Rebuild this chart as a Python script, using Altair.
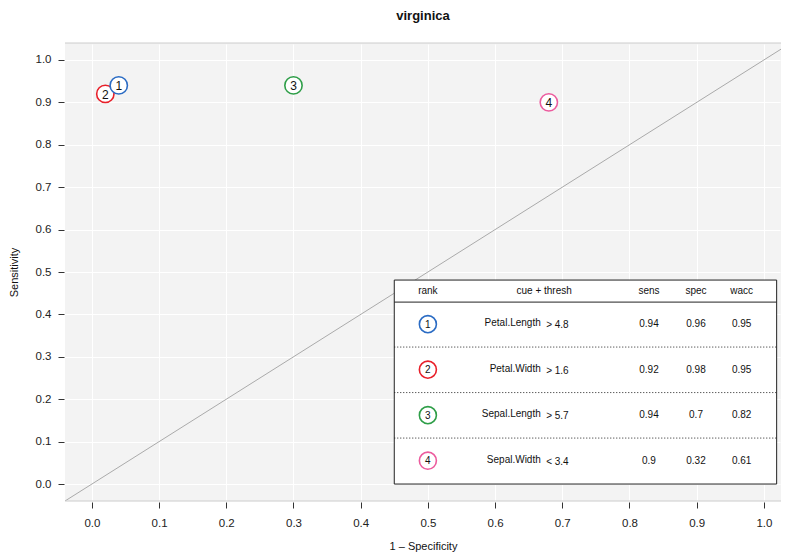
import altair as alt
import pandas as pd

ranks = [1, 2, 3, 4]
cues = ["Petal.Length", "Petal.Width", "Sepal.Length", "Sepal.Width"]
threshes = ["> 4.8", "> 1.6", "> 5.7", "< 3.4"]
sens = [0.94, 0.92, 0.94, 0.90]
spec = [0.96, 0.98, 0.70, 0.32]
wacc = [0.95, 0.95, 0.82, 0.61]
colors = ["#2B6CC4", "#E8202A", "#2E9E48", "#EC5C9E"]
ticks = [0.0, 0.1, 0.2, 0.3, 0.4, 0.5, 0.6, 0.7, 0.8, 0.9, 1.0]

FONT = "Liberation Sans"
W, H = 716, 458
xdom = [-0.04, -0.04 + W / 672]
ydom = [-0.04, 1.04]
xs = alt.Scale(domain=xdom, nice=False, zero=False)
ys = alt.Scale(domain=ydom, nice=False, zero=False)
cscale = alt.Scale(domain=ranks, range=colors)

pts = pd.DataFrame({
    "rank": ranks, "fpr": [round(1 - s, 2) for s in spec], "sens": sens,
})
pts_order = pts.iloc[::-1].reset_index(drop=True)

# table layout (data coords of the plot)
row_y = [0.377 - i * 0.1073 for i in range(4)]
tbl = pd.DataFrame({
    "rank": ranks, "cue": cues, "thresh": threshes,
    "sens_t": [f"{v:g}" for v in sens],
    "spec_t": [f"{v:g}" for v in spec],
    "wacc_t": [f"{v:g}" for v in wacc],
    "y": row_y,
})

base_x = alt.X("fpr:Q", scale=xs,
               axis=alt.Axis(values=ticks, format=".1f", title="1 \u2013 Specificity"))
base_y = alt.Y("sens:Q", scale=ys,
               axis=alt.Axis(values=ticks, format=".1f", title="Sensitivity"))

diag = alt.Chart(pd.DataFrame({"fpr": [-0.04, 1.1], "sens": [-0.04, 1.1]})).mark_line(
    color="#AAAAAA", strokeWidth=1, clip=True
).encode(x=base_x, y=base_y)

borders = alt.Chart(pd.DataFrame({"p": [0, H]})).mark_rule(color="#CCCCCC", strokeWidth=1).encode(
    x=alt.value(0), x2=alt.value(W), y=alt.Y("p:Q", scale=None)
)

circles = alt.Chart(pts_order).mark_point(
    shape="circle", filled=True, fill="white", size=300, strokeWidth=1.6, opacity=1
).encode(x=base_x, y=base_y, stroke=alt.Stroke("rank:N", scale=cscale, legend=None))

labels = alt.Chart(pts_order).mark_text(font=FONT, fontSize=12, color="#111111", dy=1).encode(
    x=base_x, y=base_y, text="rank:N"
)

# table box
TX1, TX2 = 0.45, 1.019
box = alt.Chart(pd.DataFrame({"x1": [TX1], "x2": [TX2], "y1": [0.0], "y2": [0.481]})).mark_rect(
    fill="white", stroke="#222222", strokeWidth=1
).encode(x=alt.X("x1:Q", scale=xs), x2="x2:Q", y=alt.Y("y1:Q", scale=ys), y2="y2:Q")

hline = alt.Chart(pd.DataFrame({"x1": [TX1], "x2": [TX2], "y": [0.429]})).mark_rule(
    color="#222222", strokeWidth=1
).encode(x=alt.X("x1:Q", scale=xs), x2="x2:Q", y=alt.Y("y:Q", scale=ys))

dots = alt.Chart(pd.DataFrame({"x1": [TX1] * 3, "x2": [TX2] * 3,
                               "y": [row_y[i] - 0.054 for i in range(3)]})).mark_rule(
    color="#222222", strokeWidth=1, strokeDash=[1, 2]
).encode(x=alt.X("x1:Q", scale=xs), x2="x2:Q", y=alt.Y("y:Q", scale=ys))

headers = pd.DataFrame({
    "label": ["rank", "cue + thresh", "sens", "spec", "wacc"],
    "x": [0.5, 0.673, 0.829, 0.899, 0.967],
    "y": [0.455] * 5,
})
head = alt.Chart(headers).mark_text(font=FONT, fontSize=10, color="#111111").encode(
    x=alt.X("x:Q", scale=xs), y=alt.Y("y:Q", scale=ys), text="label:N"
)

tcirc = alt.Chart(tbl.assign(x=0.5)).mark_point(
    shape="circle", filled=True, fill="white", size=290, strokeWidth=1.6, opacity=1
).encode(x=alt.X("x:Q", scale=xs), y=alt.Y("y:Q", scale=ys),
         stroke=alt.Stroke("rank:N", scale=cscale, legend=None))
tnum = alt.Chart(tbl.assign(x=0.5)).mark_text(font=FONT, fontSize=10, color="#111111", dy=0.5).encode(
    x=alt.X("x:Q", scale=xs), y=alt.Y("y:Q", scale=ys), text="rank:N"
)
tcue = alt.Chart(tbl.assign(x=0.668)).mark_text(font=FONT, fontSize=10, color="#111111", align="right", dy=-1).encode(
    x=alt.X("x:Q", scale=xs), y=alt.Y("y:Q", scale=ys), text="cue:N"
)
tthr = alt.Chart(tbl.assign(x=0.676)).mark_text(font=FONT, fontSize=10, color="#111111", align="left", dy=1).encode(
    x=alt.X("x:Q", scale=xs), y=alt.Y("y:Q", scale=ys), text="thresh:N"
)
cols = []
for field, xv in [("sens_t", 0.829), ("spec_t", 0.899), ("wacc_t", 0.967)]:
    cols.append(alt.Chart(tbl.assign(x=xv)).mark_text(font=FONT, fontSize=10, color="#111111").encode(
        x=alt.X("x:Q", scale=xs), y=alt.Y("y:Q", scale=ys), text=f"{field}:N"
    ))

chart = alt.layer(
    diag, borders, circles, labels, box, hline, dots, head, tcirc, tnum, tcue, tthr, *cols
).properties(
    width=W, height=H,
    title=alt.TitleParams("virginica", font=FONT, fontSize=13, fontWeight="bold", color="#111111",
                          anchor="middle", offset=20),
    autosize=alt.AutoSizeParams(type="none"),
    padding={"left": 57, "top": 35, "right": 0, "bottom": 51},
).configure_view(
    fill="#F3F3F3", stroke=None
).configure_axis(
    domain=False, grid=True, gridColor="#FFFFFF", gridWidth=1,
    tickColor="#333333", tickSize=6, tickWidth=1,
    labelFont=FONT, labelFontSize=11.5, labelColor="#222222",
    titleFont=FONT, titleFontSize=11, titleFontWeight="normal", titleColor="#111111",
).configure_axisX(
    labelPadding=9, titlePadding=12, offset=1
).configure_axisY(
    labelPadding=7, titlePadding=16, offset=1
)

chart.save("out.html", embed_options={"renderer": "svg", "actions": False})
